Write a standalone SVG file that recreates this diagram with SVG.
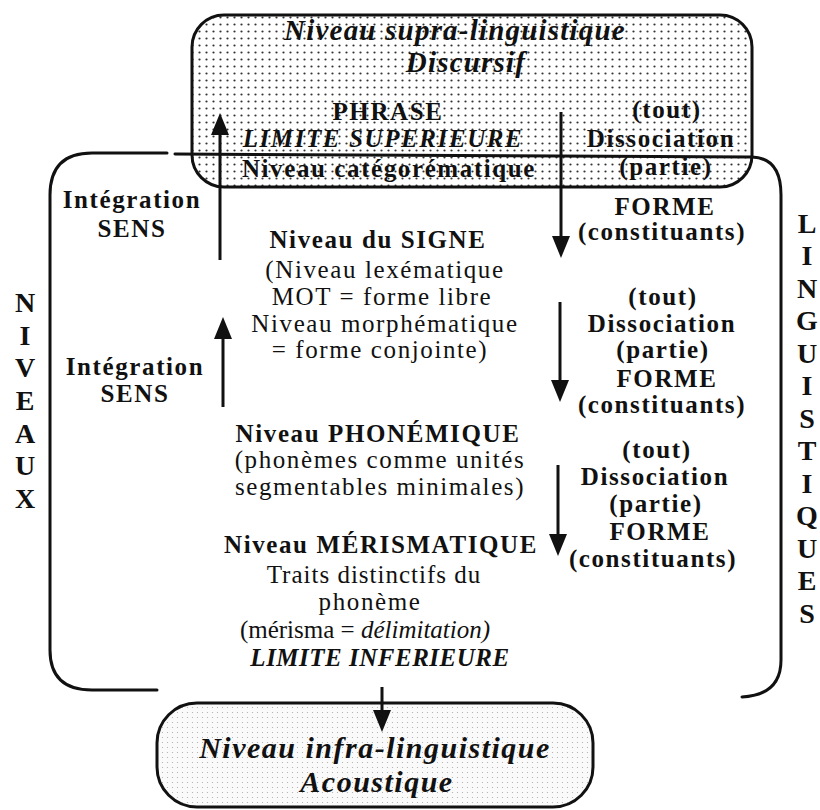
<svg xmlns="http://www.w3.org/2000/svg" width="820" height="810" viewBox="0 0 820 810">
<style>
text{font-family:"Liberation Serif","Times New Roman",serif;text-anchor:middle;fill:#111;letter-spacing:1.6px}
.b{font-size:25px;font-weight:bold}
.r{font-size:25px}
.bi{font-size:25px;font-weight:bold;font-style:italic}
.t{font-size:29px;font-weight:bold;font-style:italic;letter-spacing:1.2px}
.i2{font-size:30px;font-weight:bold;font-style:italic;letter-spacing:1.5px}
.v{font-size:28px;font-weight:bold;letter-spacing:0}
.ln{fill:none;stroke:#111;stroke-width:3;stroke-linecap:round;stroke-linejoin:round}
.box{stroke:#111;stroke-width:3}
.ar{stroke:#111;stroke-width:3;marker-end:url(#ah)}
</style>
<defs>
<pattern id="dots" width="7" height="7" patternUnits="userSpaceOnUse">
<rect width="7" height="7" fill="#fff"/>
<circle cx="3.5" cy="3.5" r="1.1" fill="#333"/>
</pattern>
<pattern id="fine" width="5" height="5" patternUnits="userSpaceOnUse">
<rect width="5" height="5" fill="#fafafa"/>
<circle cx="2.5" cy="2.5" r="0.6" fill="#aaa"/>
</pattern>
<marker id="ah" markerUnits="userSpaceOnUse" markerWidth="24" markerHeight="20" refX="12" refY="9" orient="auto">
<path d="M0,0 L22,9 L0,18 Z" fill="#111"/>
</marker>
</defs>

<g id="supra">
<rect x="192" y="15" width="560" height="172" rx="32" fill="url(#dots)" class="box"/>
<text class="t" x="455" y="40">Niveau supra-linguistique</text>
<text class="t" x="466" y="72">Discursif</text>
<text class="b" x="388" y="120">PHRASE</text>
<text class="bi" x="383" y="147">LIMITE SUPERIEURE</text>
<text class="b" x="389" y="177">Niveau catégorématique</text>
<text class="b" x="667" y="118">(tout)</text>
<text class="b" x="661" y="147">Dissociation</text>
<text class="b" x="666" y="175">(partie)</text>
</g>

<g id="bracket">
<path class="ln" d="M157,690 H92 Q50,690 50,650 V195 Q50,153 92,153 H167"/>
<path class="ln" d="M175,154 L752,157 Q781,158 781,195 V660 Q781,695 742,697"/>
</g>

<g id="niveaux">
<text class="v" x="25" y="312">N</text>
<text class="v" x="25" y="345">I</text>
<text class="v" x="25" y="377">V</text>
<text class="v" x="25" y="410">E</text>
<text class="v" x="25" y="443">A</text>
<text class="v" x="25" y="475">U</text>
<text class="v" x="25" y="508">X</text>
</g>

<g id="linguistiques">
<text class="v" x="807" y="233">L</text>
<text class="v" x="807" y="265">I</text>
<text class="v" x="807" y="298">N</text>
<text class="v" x="807" y="330">G</text>
<text class="v" x="807" y="363">U</text>
<text class="v" x="807" y="395">I</text>
<text class="v" x="807" y="428">S</text>
<text class="v" x="807" y="460">T</text>
<text class="v" x="807" y="493">I</text>
<text class="v" x="807" y="525">Q</text>
<text class="v" x="807" y="558">U</text>
<text class="v" x="807" y="590">E</text>
<text class="v" x="807" y="623">S</text>
</g>

<g id="integration1">
<text class="b" x="132" y="208">Intégration</text>
<text class="b" x="132" y="237">SENS</text>
</g>
<g id="integration2">
<text class="b" x="135" y="375">Intégration</text>
<text class="b" x="135" y="402">SENS</text>
</g>

<g id="dissociation1">
<text class="b" x="665" y="215">FORME</text>
<text class="b" x="662" y="240">(constituants)</text>
</g>
<g id="dissociation2">
<text class="b" x="663" y="305">(tout)</text>
<text class="b" x="662" y="332">Dissociation</text>
<text class="b" x="663" y="358">(partie)</text>
<text class="b" x="667" y="387">FORME</text>
<text class="b" x="662" y="413">(constituants)</text>
</g>
<g id="dissociation3">
<text class="b" x="657" y="458">(tout)</text>
<text class="b" x="655" y="485">Dissociation</text>
<text class="b" x="656" y="512">(partie)</text>
<text class="b" x="660" y="540">FORME</text>
<text class="b" x="653" y="567">(constituants)</text>
</g>

<g id="signe">
<text class="b" x="378" y="248">Niveau du SIGNE</text>
<text class="r" x="385" y="278">(Niveau lexématique</text>
<text class="r" x="382" y="305">MOT = forme libre</text>
<text class="r" x="385" y="332">Niveau morphématique</text>
<text class="r" x="380" y="358">= forme conjointe)</text>
</g>

<g id="phonemique">
<text class="b" x="378" y="442">Niveau PHONÉMIQUE</text>
<text class="r" x="380" y="468">(phonèmes comme unités</text>
<text class="r" x="380" y="495">segmentables minimales)</text>
</g>

<g id="merismatique">
<text class="b" x="381" y="553">Niveau MÉRISMATIQUE</text>
<text class="r" x="374" y="583" style="letter-spacing:1px">Traits distinctifs du</text>
<text class="r" x="370" y="610">phonème</text>
<text class="r" x="365" y="638" style="letter-spacing:0">(mérisma = <tspan font-style="italic">délimitation)</tspan></text>
<text class="bi" x="380" y="666" style="letter-spacing:0.5px">LIMITE INFERIEURE</text>
</g>

<g id="infra">
<rect x="157" y="703" width="436" height="104" rx="40" fill="url(#fine)" class="box"/>
<text class="i2" x="375" y="758">Niveau infra-linguistique</text>
<text class="i2" x="377" y="792">Acoustique</text>
</g>

<g id="connectors">
<line class="ar" x1="220" y1="260" x2="220" y2="123"/>
<line class="ar" x1="223" y1="407" x2="223" y2="327"/>
<line class="ar" x1="561" y1="112" x2="561" y2="248"/>
<line class="ar" x1="560" y1="302" x2="560" y2="392"/>
<line class="ar" x1="558" y1="465" x2="558" y2="546"/>
<line class="ar" x1="382" y1="687" x2="382" y2="722"/>
</g>
</svg>
